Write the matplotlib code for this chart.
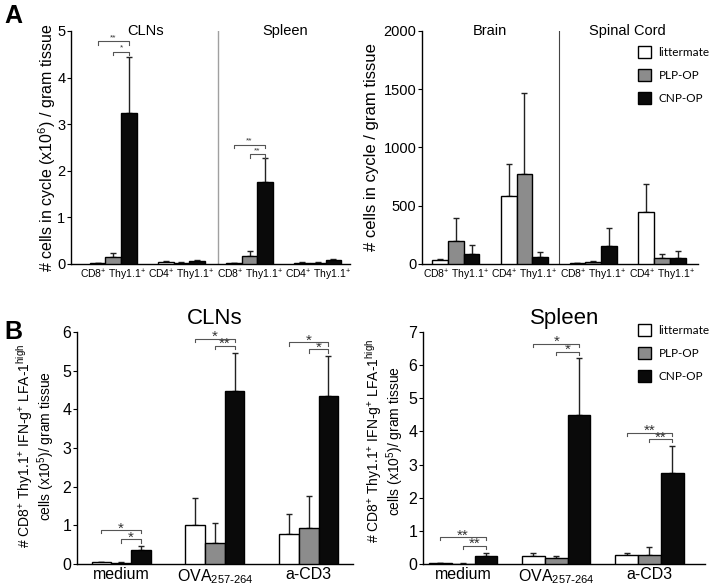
import matplotlib
matplotlib.use("Agg")
import matplotlib.pyplot as plt
import numpy as np

plt.rcParams['font.family'] = ['Liberation Sans', 'DejaVu Sans']
plt.rcParams['mathtext.default'] = 'regular'

series_names = ["littermate", "PLP-OP", "CNP-OP"]
bar_colors = ["white", "#8c8c8c", "#0a0a0a"]

# Panel A left: CLNs / Spleen (x10^6)
a1_groups = ["CD8$^{+}$ Thy1.1$^{+}$", "CD4$^{+}$ Thy1.1$^{+}$",
             "CD8$^{+}$ Thy1.1$^{+}$", "CD4$^{+}$ Thy1.1$^{+}$"]
a1_means = [[0.02, 0.05, 0.02, 0.03],
            [0.15, 0.03, 0.17, 0.03],
            [3.25, 0.07, 1.75, 0.08]]
a1_tops = [[0.03, 0.06, 0.03, 0.04],
           [0.23, 0.04, 0.27, 0.04],
           [4.45, 0.09, 2.28, 0.10]]
a1_sections = ["CLNs", "Spleen"]

# Panel A right: Brain / Spinal Cord
a2_groups = a1_groups
a2_means = [[35, 585, 5, 450],
            [200, 775, 15, 50],
            [85, 60, 155, 55]]
a2_tops = [[45, 860, 10, 685],
           [395, 1470, 25, 90],
           [160, 105, 310, 110]]
a2_sections = ["Brain", "Spinal Cord"]

# Panel B (x10^5)
b_groups = ["medium", "OVA$_{257\\text{-}264}$", "a-CD3"]
b1_means = [[0.05, 1.0, 0.78],
            [0.03, 0.55, 0.92],
            [0.35, 4.48, 4.35]]
b1_tops = [[0.06, 1.70, 1.30],
           [0.04, 1.07, 1.75],
           [0.47, 5.46, 5.37]]
b2_means = [[0.02, 0.25, 0.27],
            [0.01, 0.17, 0.28],
            [0.25, 4.5, 2.75]]
b2_tops = [[0.03, 0.32, 0.32],
           [0.02, 0.25, 0.50],
           [0.32, 6.2, 3.55]]

# significance brackets: (group, first series, last series, height, label)
a1_sig = [(0, 0, 2, 4.78, "**"), (0, 1, 2, 4.56, "*"),
          (2, 0, 2, 2.56, "**"), (2, 1, 2, 2.36, "**")]
b1_sig = [(0, 0, 2, 0.88, "*"), (0, 1, 2, 0.64, "*"),
          (1, 0, 2, 5.83, "*"), (1, 1, 2, 5.65, "**"),
          (2, 0, 2, 5.74, "*"), (2, 1, 2, 5.55, "*")]
b2_sig = [(0, 0, 2, 0.81, "**"), (0, 1, 2, 0.55, "**"),
          (1, 0, 2, 6.64, "*"), (1, 1, 2, 6.4, "*"),
          (2, 0, 2, 3.96, "**"), (2, 1, 2, 3.77, "**")]

b_ylabel = ("# CD8$^{+}$ Thy1.1$^{+}$ IFN-g$^{+}$ LFA-1$^{high}$\n"
            "cells (x10$^{5}$)/ gram tissue")


def draw_bars(ax, groups, means, tops, width):
    x = np.arange(len(groups))
    for i in range(3):
        xs = x + (i - 1) * width
        m = np.array(means[i])
        t = np.array(tops[i])
        ax.bar(xs, m, width, color=bar_colors[i], edgecolor="black",
               linewidth=1.0, label=series_names[i], zorder=3)
        ax.errorbar(xs, m, yerr=[np.zeros_like(m), t - m], fmt="none",
                    ecolor="#222222", elinewidth=1.0, capsize=2.5,
                    capthick=1.0, zorder=2)
    ax.set_xticks(x)
    ax.set_xticklabels(groups)
    ax.tick_params(axis="x", length=0)


def draw_sig(ax, sigs, width, tick, fs, pad=0):
    for g, s0, s1, h, lab in sigs:
        x0 = g + (s0 - 1) * width
        x1 = g + (s1 - 1) * width
        ax.plot([x0, x0, x1, x1], [h - tick, h, h, h - tick],
                color="#555555", lw=0.8, zorder=4)
        ax.text((x0 + x1) / 2, h - pad, lab, ha="center", va="bottom",
                fontsize=fs, color="#333333")


def style(ax, size):
    for s in ["top", "right"]:
        ax.spines[s].set_visible(False)
    ax.spines["left"].set_linewidth(1.0)
    ax.spines["bottom"].set_linewidth(1.0)
    ax.tick_params(axis="y", direction="out", length=3, labelsize=size,
                   pad=1)


def add_legend(ax, x, y):
    ax.legend(loc="upper left", bbox_to_anchor=(x, y),
              bbox_transform=fig.transFigure, frameon=False,
              handlelength=1.1, handleheight=1.15, labelspacing=0.95,
              handletextpad=0.6, borderaxespad=0, borderpad=0,
              prop={"family": "Lato", "size": 8.5})


fig = plt.figure(figsize=(7.11, 5.86), dpi=100)

# ---- A left
ax1 = fig.add_axes([0.0999, 0.5495, 0.392, 0.3976])
w = 0.23
draw_bars(ax1, a1_groups, a1_means, a1_tops, w)
draw_sig(ax1, a1_sig, w, 0.08, 6)
ax1.set_xlim(-0.62, 3.47)
ax1.set_ylim(0, 5)
ax1.set_yticks([0, 1, 2, 3, 4, 5])
ax1.axvline(1.53, color="#a0a0a0", lw=1.0)
ax1.text(0.47, 5, a1_sections[0], ha="center", va="center", fontsize=10.5)
ax1.text(2.52, 5, a1_sections[1], ha="center", va="center", fontsize=10.5)
ax1.set_ylabel("# cells in cycle (x10$^{6}$) / gram tissue", fontsize=11.5)
ax1.yaxis.set_label_coords(-0.045, 0.5)
style(ax1, 10.5)
ax1.tick_params(axis="x", labelsize=7.5, pad=3)

# ---- A right
ax2 = fig.add_axes([0.5935, 0.5495, 0.388, 0.3976])
draw_bars(ax2, a2_groups, a2_means, a2_tops, w)
ax2.set_xlim(-0.49, 3.52)
ax2.set_ylim(0, 2000)
ax2.set_yticks([0, 500, 1000, 1500, 2000])
ax2.axvline(1.5, color="#444444", lw=0.8)
ax2.text(0.5, 2000, a2_sections[0], ha="center", va="center", fontsize=10.5)
ax2.text(2.5, 2000, a2_sections[1], ha="center", va="center", fontsize=10.5)
ax2.set_ylabel("# cells in cycle / gram tissue", fontsize=12)
ax2.yaxis.set_label_coords(-0.155, 0.5)
style(ax2, 10.5)
ax2.tick_params(axis="x", labelsize=7.5, pad=3)
add_legend(ax2, 0.898, 0.921)

# ---- B left
ax3 = fig.add_axes([0.1083, 0.0375, 0.388, 0.396])
wb = 0.21
draw_bars(ax3, b_groups, b1_means, b1_tops, wb)
draw_sig(ax3, b1_sig, wb, 0.09, 11, pad=0.14)
ax3.set_xlim(-0.47, 2.47)
ax3.set_ylim(0, 6)
ax3.set_yticks(range(7))
ax3.set_title("CLNs", fontsize=16, pad=6)
ax3.set_ylabel(b_ylabel, fontsize=10, linespacing=1.05)
ax3.yaxis.set_label_coords(-0.072, 0.51)
style(ax3, 11.5)
ax3.tick_params(axis="x", labelsize=11.5, pad=2)

# ---- B right
ax4 = fig.add_axes([0.595, 0.0375, 0.397, 0.396])
wb2 = 0.245
draw_bars(ax4, b_groups, b2_means, b2_tops, wb2)
draw_sig(ax4, b2_sig, wb2, 0.1, 11, pad=0.16)
ax4.set_xlim(-0.43, 2.6)
ax4.set_ylim(0, 7)
ax4.set_yticks(range(8))
ax4.set_title("Spleen", fontsize=16, pad=6)
ax4.set_ylabel(b_ylabel, fontsize=10, linespacing=1.05)
ax4.yaxis.set_label_coords(-0.06, 0.53)
style(ax4, 11.5)
ax4.tick_params(axis="x", labelsize=11.5, pad=2)
add_legend(ax4, 0.898, 0.447)

fig.text(0.006, 0.972, "A", fontsize=18, fontweight="bold", va="center")
fig.text(0.006, 0.434, "B", fontsize=18, fontweight="bold", va="center")

fig.savefig("out.png", dpi=100)
